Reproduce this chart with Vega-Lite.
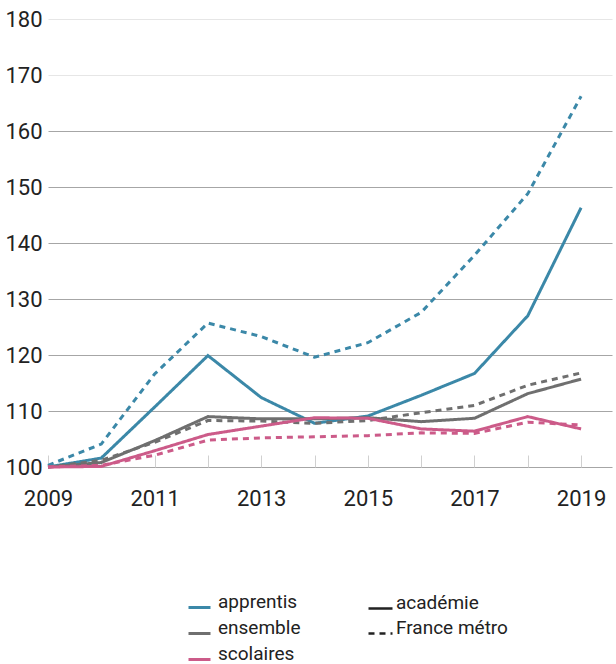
{
  "$schema": "https://vega.github.io/schema/vega-lite/v6.json",
  "autosize": {"type": "none"},
  "width": 564,
  "height": 448,
  "padding": {"left": 48, "top": 19, "right": 4, "bottom": 197},
  "background": "white",
  "config": {"view": {"stroke": null}},
  "data": {"values": [
    {"year": 2009, "group": "apprentis", "scope": "académie", "value": 100},
    {"year": 2010, "group": "apprentis", "scope": "académie", "value": 101.6},
    {"year": 2011, "group": "apprentis", "scope": "académie", "value": 110.7},
    {"year": 2012, "group": "apprentis", "scope": "académie", "value": 119.9},
    {"year": 2013, "group": "apprentis", "scope": "académie", "value": 112.4},
    {"year": 2014, "group": "apprentis", "scope": "académie", "value": 107.8},
    {"year": 2015, "group": "apprentis", "scope": "académie", "value": 109.1},
    {"year": 2016, "group": "apprentis", "scope": "académie", "value": 112.8},
    {"year": 2017, "group": "apprentis", "scope": "académie", "value": 116.7},
    {"year": 2018, "group": "apprentis", "scope": "académie", "value": 127.0},
    {"year": 2019, "group": "apprentis", "scope": "académie", "value": 146.3},
    {"year": 2009, "group": "apprentis", "scope": "France métro", "value": 100.3},
    {"year": 2010, "group": "apprentis", "scope": "France métro", "value": 104.1},
    {"year": 2011, "group": "apprentis", "scope": "France métro", "value": 116.6},
    {"year": 2012, "group": "apprentis", "scope": "France métro", "value": 125.7},
    {"year": 2013, "group": "apprentis", "scope": "France métro", "value": 123.3},
    {"year": 2014, "group": "apprentis", "scope": "France métro", "value": 119.6},
    {"year": 2015, "group": "apprentis", "scope": "France métro", "value": 122.2},
    {"year": 2016, "group": "apprentis", "scope": "France métro", "value": 127.6},
    {"year": 2017, "group": "apprentis", "scope": "France métro", "value": 137.8},
    {"year": 2018, "group": "apprentis", "scope": "France métro", "value": 148.8},
    {"year": 2019, "group": "apprentis", "scope": "France métro", "value": 166.2},
    {"year": 2009, "group": "ensemble", "scope": "académie", "value": 100},
    {"year": 2010, "group": "ensemble", "scope": "académie", "value": 100.8},
    {"year": 2011, "group": "ensemble", "scope": "académie", "value": 104.7},
    {"year": 2012, "group": "ensemble", "scope": "académie", "value": 109.0},
    {"year": 2013, "group": "ensemble", "scope": "académie", "value": 108.6},
    {"year": 2014, "group": "ensemble", "scope": "académie", "value": 108.6},
    {"year": 2015, "group": "ensemble", "scope": "académie", "value": 108.8},
    {"year": 2016, "group": "ensemble", "scope": "académie", "value": 108.1},
    {"year": 2017, "group": "ensemble", "scope": "académie", "value": 108.7},
    {"year": 2018, "group": "ensemble", "scope": "académie", "value": 113.1},
    {"year": 2019, "group": "ensemble", "scope": "académie", "value": 115.7},
    {"year": 2009, "group": "ensemble", "scope": "France métro", "value": 100},
    {"year": 2010, "group": "ensemble", "scope": "France métro", "value": 101.2},
    {"year": 2011, "group": "ensemble", "scope": "France métro", "value": 104.4},
    {"year": 2012, "group": "ensemble", "scope": "France métro", "value": 108.3},
    {"year": 2013, "group": "ensemble", "scope": "France métro", "value": 108.2},
    {"year": 2014, "group": "ensemble", "scope": "France métro", "value": 107.8},
    {"year": 2015, "group": "ensemble", "scope": "France métro", "value": 108.3},
    {"year": 2016, "group": "ensemble", "scope": "France métro", "value": 109.7},
    {"year": 2017, "group": "ensemble", "scope": "France métro", "value": 111.0},
    {"year": 2018, "group": "ensemble", "scope": "France métro", "value": 114.6},
    {"year": 2019, "group": "ensemble", "scope": "France métro", "value": 116.8},
    {"year": 2009, "group": "scolaires", "scope": "académie", "value": 100},
    {"year": 2010, "group": "scolaires", "scope": "académie", "value": 100.1},
    {"year": 2011, "group": "scolaires", "scope": "académie", "value": 102.9},
    {"year": 2012, "group": "scolaires", "scope": "académie", "value": 105.8},
    {"year": 2013, "group": "scolaires", "scope": "académie", "value": 107.3},
    {"year": 2014, "group": "scolaires", "scope": "académie", "value": 108.8},
    {"year": 2015, "group": "scolaires", "scope": "académie", "value": 108.7},
    {"year": 2016, "group": "scolaires", "scope": "académie", "value": 106.8},
    {"year": 2017, "group": "scolaires", "scope": "académie", "value": 106.4},
    {"year": 2018, "group": "scolaires", "scope": "académie", "value": 109.0},
    {"year": 2019, "group": "scolaires", "scope": "académie", "value": 106.8},
    {"year": 2009, "group": "scolaires", "scope": "France métro", "value": 100},
    {"year": 2010, "group": "scolaires", "scope": "France métro", "value": 100.3},
    {"year": 2011, "group": "scolaires", "scope": "France métro", "value": 102.1},
    {"year": 2012, "group": "scolaires", "scope": "France métro", "value": 104.8},
    {"year": 2013, "group": "scolaires", "scope": "France métro", "value": 105.2},
    {"year": 2014, "group": "scolaires", "scope": "France métro", "value": 105.4},
    {"year": 2015, "group": "scolaires", "scope": "France métro", "value": 105.6},
    {"year": 2016, "group": "scolaires", "scope": "France métro", "value": 106.1},
    {"year": 2017, "group": "scolaires", "scope": "France métro", "value": 106.0},
    {"year": 2018, "group": "scolaires", "scope": "France métro", "value": 108.0},
    {"year": 2019, "group": "scolaires", "scope": "France métro", "value": 107.5}
  ]},
  "mark": {"type": "line", "strokeWidth": 3, "strokeJoin": "miter", "strokeCap": "butt"},
  "encoding": {
    "x": {
      "field": "year", "type": "quantitative",
      "scale": {"domain": [2009, 2019.58], "nice": false, "zero": false},
      "axis": {
        "title": null,
        "values": [2009, 2010, 2011, 2012, 2013, 2014, 2015, 2016, 2017, 2018, 2019],
        "format": "d",
        "labelExpr": "datum.value % 2 == 1 ? datum.label : ''",
        "grid": false, "domain": false,
        "tickColor": "#d0d0d0", "tickSize": -12, "tickWidth": 1,
        "labelFont": "Roboto, sans-serif",
        "labelFontSize": 22, "labelColor": "#222",
        "labelPadding": 43, "labelBaseline": "middle",
        "labelFlush": false, "labelOverlap": false
      }
    },
    "y": {
      "field": "value", "type": "quantitative",
      "scale": {"domain": [100, 180], "nice": false, "zero": false},
      "axis": {
        "title": null,
        "values": [100, 110, 120, 130, 140, 150, 160, 170, 180],
        "grid": true,
        "gridColor": {"condition": {"test": "datum.value >= 170", "value": "#e6e6e6"}, "value": "#a6a6a6"},
        "gridWidth": 1.2,
        "ticks": false, "domain": false,
        "labelFont": "Roboto, sans-serif",
        "labelFontSize": 22, "labelColor": "#222",
        "labelPadding": 6, "labelFlush": false
      }
    },
    "color": {
      "field": "group", "type": "nominal",
      "scale": {"domain": ["apprentis", "ensemble", "scolaires"], "range": ["#3b88a8", "#6f6f6f", "#cc5b89"]},
      "legend": {
        "title": null, "orient": "none", "legendX": 139, "legendY": 576,
        "direction": "vertical", "padding": 0,
        "symbolType": "stroke", "symbolSize": 484, "symbolStrokeWidth": 3,
        "labelFont": "Roboto, sans-serif", "labelFontSize": 19, "labelColor": "#222",
        "labelBaseline": "alphabetic", "labelOffset": 6, "rowPadding": 4
      }
    },
    "strokeDash": {
      "field": "scope", "type": "nominal",
      "scale": {"domain": ["académie", "France métro"], "range": [[1, 0], [6, 5]]},
      "legend": {
        "title": null, "orient": "none", "legendX": 319, "legendY": 576,
        "direction": "vertical", "padding": 0,
        "symbolType": "stroke", "symbolSize": 576, "symbolStrokeWidth": 2.5,
        "symbolStrokeColor": "#222",
        "labelFont": "Roboto, sans-serif", "labelFontSize": 19, "labelColor": "#222",
        "labelBaseline": "alphabetic", "labelOffset": 2, "rowPadding": 4,
        "encode": {"symbols": {"update": {"strokeDash": {"signal": "datum.value === 'France métro' ? [2, 3] : [1, 0]"}}}}
      }
    }
  }
}
